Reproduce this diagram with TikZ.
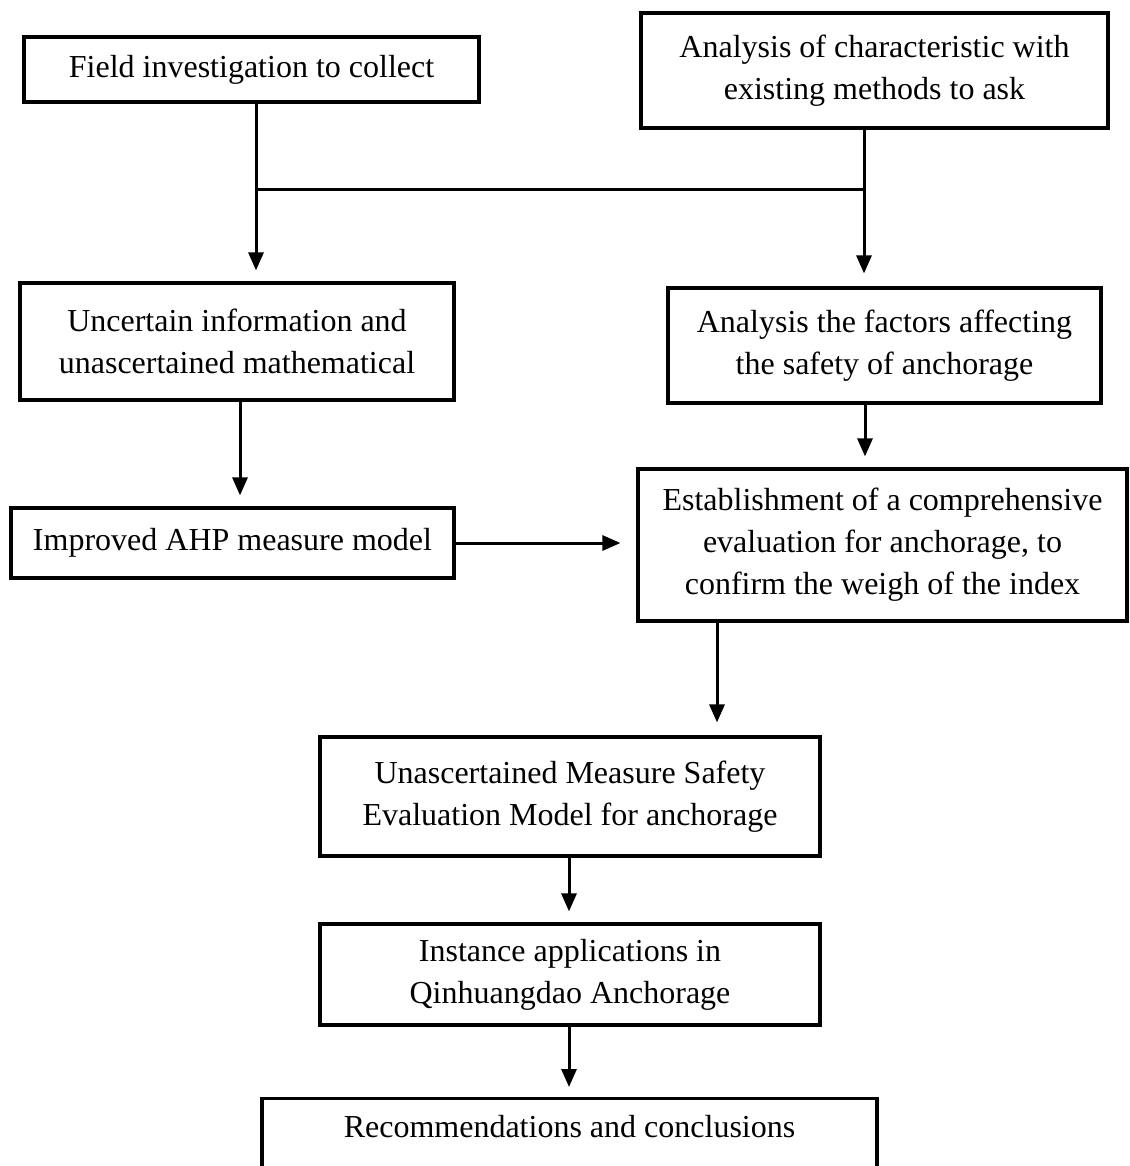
\documentclass[tikz,border=0pt]{standalone}
\usepackage{fontspec}
\setmainfont{Liberation Serif}
\usetikzlibrary{arrows.meta,calc}
\tikzset{
    block/.style = {draw, line width = 3.2pt, inner sep = 0pt, align = center,
        font = \fontsize{32}{42}\selectfont},
    arr/.style = {line width = 3pt, -{Triangle[length = 18pt, width = 15pt]}}
}
\begin{document}
\begin{tikzpicture}[x = 1pt, y = -1pt]
        \useasboundingbox (0, 0) rectangle (1129, 1166);
        \node[block, minimum width = 455pt, minimum height = 65pt] (field) at (251.5, 69.5) {Field investigation to collect};
        \node[block, minimum width = 467pt, minimum height = 115pt] (charac) at (874.5, 70.5) {Analysis of characteristic with\\existing methods to ask};
        \node[block, minimum width = 434pt, minimum height = 117pt] (uncert) at (237, 341.5) {Uncertain information and\\unascertained mathematical};
        \node[block, minimum width = 433pt, minimum height = 115pt] (factors) at (884.5, 345.5) {Analysis the factors affecting\\the safety of anchorage};
        \node[block, minimum width = 443pt, minimum height = 70pt] (ahp) at (232.5, 543) {Improved AHP measure model};
        \node[block, minimum width = 489pt, minimum height = 152pt] (estab) at (882.5, 545) {Establishment of a comprehensive\\evaluation for anchorage, to\\confirm the weigh of the index};
        \node[block, minimum width = 500pt, minimum height = 119pt] (model) at (570, 796.5) {Unascertained Measure Safety\\Evaluation Model for anchorage};
        \node[block, minimum width = 500pt, minimum height = 101pt] (inst) at (570, 974.5) {Instance applications in\\Qinhuangdao Anchorage};
        \node[block, minimum width = 615pt, text height = 39pt, text depth = 60pt, anchor = north] (recom) at (569.5, 1097) {Recommendations and conclusions};
        \coordinate (j1) at (256, 190);
        \coordinate (j2) at (864, 190);
        \draw[line width = 3pt] (field.south -| j1) -- (j1) -- (j2) -- (charac.south -| j2);
        \draw[arr, shorten > = 11pt] (j1) -- (uncert.north -| j1);
        \draw[arr, shorten > = 13pt] (j2) -- (factors.north -| j2);
        \draw[arr, shorten > = 11pt] (uncert.south -| 240, 0) -- (ahp.north -| 240, 0);
        \draw[arr, shorten > = 11pt] (factors.south -| 865, 0) -- (estab.north -| 865, 0);
        \draw[arr, shorten > = 16pt] (ahp.east) -- (estab.west |- ahp.east);
        \draw[arr, shorten > = 13pt] (estab.south -| 717, 0) -- (model.north -| 717, 0);
        \draw[arr, shorten > = 11pt] (model.south -| 569, 0) -- (inst.north -| 569, 0);
        \draw[arr, shorten > = 10pt] (inst.south -| 569, 0) -- (recom.north -| 569, 0);
    \end{tikzpicture}
\end{document}
